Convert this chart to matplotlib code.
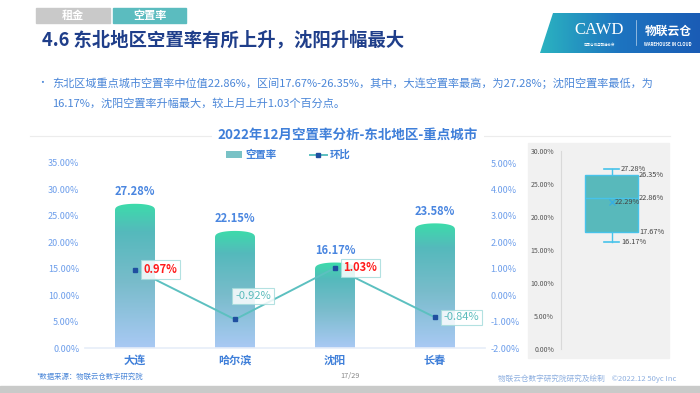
import numpy as np
import matplotlib
matplotlib.use("Agg")
import matplotlib.pyplot as plt
from matplotlib.colors import LinearSegmentedColormap
from matplotlib.patches import Polygon, Rectangle, Patch
from matplotlib.lines import Line2D

plt.rcParams['font.family'] = ['Noto Sans CJK SC', 'DejaVu Sans']

# data
cities = ["大连", "哈尔滨", "沈阳", "长春"]
vacancy = [27.28, 22.15, 16.17, 23.58]
mom = [0.97, -0.92, 1.03, -0.84]
box_stats = dict(whislo=16.17, q1=17.67, med=22.86, mean=22.29, q3=26.35, whishi=27.28)
left_ticks = [0, 5, 10, 15, 20, 25, 30, 35]
right_ticks = [-2, -1, 0, 1, 2, 3, 4, 5]
box_ticks = [0, 5, 10, 15, 20, 25, 30]

W, H = 700, 393
fig = plt.figure(figsize=(7, 3.93), dpi=100)


def fx(px):
    return px / W


def fy(py):
    return 1 - py / H


def rect(x0, y0, x1, y1):
    return [fx(x0), fy(y1), (x1 - x0) / W, (y1 - y0) / H]


BLUE = '#3f7fd9'
TICK = '#6d9eeb'
TEAL = '#5cc0c0'

# header tabs + title
fig.add_artist(Rectangle((fx(36), fy(23)), 74 / W, 15 / H, transform=fig.transFigure, color='#c9c9c9'))
fig.add_artist(Rectangle((fx(113), fy(23)), 73 / W, 15 / H, transform=fig.transFigure, color='#5bbcbf'))
fig.text(fx(73), fy(15.5), "租金", color='white', fontsize=8, fontweight='bold', ha='center', va='center')
fig.text(fx(149.5), fy(15.5), "空置率", color='white', fontsize=8, fontweight='bold', ha='center', va='center')
fig.text(fx(42), fy(40), "4.6 东北地区空置率有所上升，沈阳升幅最大", color='#1f3e8a',
         fontsize=13.2, fontweight='bold', ha='left', va='center')

# logo
axl = fig.add_axes(rect(540, 13, 700, 53))
axl.axis('off')
gx = np.linspace(0, 1, 256).reshape(1, -1)
logo_cmap = LinearSegmentedColormap.from_list('logo', ['#2bb3c0', '#1d74c0', '#1a5cb5'])
im = axl.imshow(gx, extent=[0, 1, 0, 1], cmap=logo_cmap, aspect='auto')
clip = Polygon([(0, 0), (13 / 160, 1), (1, 1), (1, 0)], transform=axl.transAxes)
im.set_clip_path(clip)
axl.set_xlim(0, 1)
axl.set_ylim(0, 1)
axl.text(0.37, 0.58, "CAWD", color='white', fontsize=12, ha='center', va='center',
         family=['Liberation Serif', 'DejaVu Serif'])
axl.text(0.37, 0.2, "中国仓储与配送协会", color='white', fontsize=2.5, ha='center', va='center')
axl.plot([0.6, 0.6], [0.2, 0.82], color='white', lw=0.5, alpha=0.7)
axl.text(0.8, 0.55, "物联云仓", color='white', fontsize=8.5, fontweight='bold', ha='center', va='center')
axl.text(0.8, 0.2, "WAREHOUSE IN CLOUD", color='white', fontsize=3, fontweight='bold', ha='center', va='center')

# bullet text
TXT = '#4a86d8'
fig.text(fx(37), fy(83), "•", color=TXT, fontsize=7, ha='left', va='center')
fig.text(fx(52), fy(83), "东北区域重点城市空置率中位值22.86%，区间17.67%-26.35%，其中，大连空置率最高，为27.28%；沈阳空置率最低，为",
         color=TXT, fontsize=8, ha='left', va='center')
fig.text(fx(52), fy(103), "16.17%，沈阳空置率升幅最大，较上月上升1.03个百分点。",
         color=TXT, fontsize=8, ha='left', va='center')

# chart title with line
fig.add_artist(Line2D([fx(30), fx(670)], [fy(136), fy(136)], transform=fig.transFigure, color='#ececec', lw=0.8))
fig.text(fx(348), fy(135), "2022年12月空置率分析-东北地区-重点城市", color=BLUE, fontsize=9.7,
         fontweight='bold', ha='center', va='center',
         bbox=dict(boxstyle='square,pad=0.4', fc='white', ec='none'))

# main chart
ax = fig.add_axes(rect(85, 163, 485, 348))
ax.set_xlim(-0.5, len(cities) - 0.5)
ax.set_ylim(0, 35)
bar_cmap = LinearSegmentedColormap.from_list('bar', [(0, '#a9c9f4'), (0.45, '#79bccb'), (0.8, '#55b9bc'), (1, '#3cdcaa')])
grad = np.linspace(0, 1, 256).reshape(-1, 1)
bw = 0.4
cap = 1.4
for i, v in enumerate(vacancy):
    x0 = i - bw / 2
    t = np.linspace(np.pi, 0, 60)
    arc = np.column_stack([i + bw / 2 * np.cos(t), v - cap + cap * np.sin(t) ** 0.6])
    verts = np.vstack([[[x0, 0], [x0, v - cap]], arc, [[x0 + bw, v - cap], [x0 + bw, 0]]])
    poly = Polygon(verts, closed=True, transform=ax.transData)
    img = ax.imshow(grad, extent=[x0, x0 + bw, 0, v], origin='lower', cmap=bar_cmap, aspect='auto', zorder=2)
    img.set_clip_path(poly)
    ax.annotate(f"{v:.2f}%", (i, v), xytext=(0, 4), textcoords='offset points', ha='center', va='bottom',
                color='#4a86e0', fontsize=8, fontweight='bold')
ax.set_xlim(-0.5, len(cities) - 0.5)
ax.set_ylim(0, 35)
ax.set_yticks(left_ticks)
ax.set_yticklabels([f"{t:.2f}%" for t in left_ticks])
ax.set_xticks(range(len(cities)))
ax.set_xticklabels(cities, fontweight='bold', color=BLUE, fontsize=8)
ax.tick_params(axis='y', length=0, labelsize=6.5, labelcolor=TICK, pad=4)
ax.tick_params(axis='x', length=0, pad=4)
for s in ['top', 'right', 'left']:
    ax.spines[s].set_visible(False)
ax.spines['bottom'].set_color('#e6edf8')
ax.spines['bottom'].set_linewidth(1.2)

ax2 = ax.twinx()
ax2.set_ylim(-2, 5)
ax2.plot(range(len(cities)), mom, color=TEAL, lw=1.4, marker='s', markersize=3.2,
         markerfacecolor='#1f4fa0', markeredgecolor='#1f4fa0', zorder=3)
ax2.set_yticks(right_ticks)
ax2.set_yticklabels([f"{t:.2f}%" for t in right_ticks])
ax2.tick_params(axis='y', length=0, labelsize=6.5, labelcolor=TICK, pad=4)
for s in ax2.spines.values():
    s.set_visible(False)
offsets = [(6, 0), (0, 17), (6, 0), (6, 0)]
for i, v in enumerate(mom):
    col = '#ff1a1a' if v > 0 else '#5cbcbc'
    ax2.annotate(f"{v:.2f}%", (i, v), xytext=offsets[i], textcoords='offset points', ha='left', va='center',
                 color=col, fontsize=8, fontweight='bold' if v > 0 else 'normal', zorder=5,
                 bbox=dict(boxstyle='square,pad=0.25', fc='white', ec='#a6dcdc', lw=0.8, alpha=0.85))

# legend
handles = [Patch(facecolor='#79c2c6', edgecolor='none'),
           Line2D([0], [0], color=TEAL, lw=1.4, marker='s', markersize=2.5,
                  markerfacecolor='#1f4fa0', markeredgecolor='#1f4fa0')]
fig.legend(handles, ["空置率", "环比"], loc='center', bbox_to_anchor=(fx(288), fy(155)), ncol=2,
           frameon=False, labelcolor=BLUE, handlelength=1.6, handleheight=0.6,
           columnspacing=3.2, handletextpad=0.3, prop=dict(weight='bold', size=7.5))

# box plot panel
fig.add_artist(Rectangle((fx(528), fy(358)), 141 / W, 215 / H, transform=fig.transFigure, color='#f1f1f1', zorder=0))
ax3 = fig.add_axes(rect(561, 151, 669, 349))
ax3.set_facecolor('none')
ax3.bxp([box_stats], positions=[0.47], widths=0.49, capwidths=0.14, patch_artist=True,
        showmeans=True, showfliers=False,
        boxprops=dict(facecolor='#58b9bb', edgecolor='#47c3ea', lw=1),
        medianprops=dict(color='#47c3ea', lw=1),
        whiskerprops=dict(color='#47c3ea', lw=1),
        capprops=dict(color='#47c3ea', lw=1.2),
        meanprops=dict(marker='x', markeredgecolor='#3aaee0', markersize=4))
ax3.set_xlim(0, 1)
ax3.set_ylim(0, 30)
ax3.set_xticks([])
ax3.set_yticks(box_ticks)
ax3.set_yticklabels([f"{t:.2f}%" for t in box_ticks])
ax3.tick_params(axis='y', length=0, labelsize=5, labelcolor='#555555', pad=5)
for s in ['top', 'right', 'bottom']:
    ax3.spines[s].set_visible(False)
ax3.spines['left'].set_color('#d9d9d9')


def dx(px):
    return (px - 561) / 108


box_labels = [(dx(621), box_stats['whishi']), (dx(639), box_stats['q3']), (dx(639), box_stats['med']),
              (dx(615), box_stats['mean']), (dx(639), box_stats['q1']), (dx(621), box_stats['whislo'])]
for x, v in box_labels:
    ax3.text(x, v, f"{v:.2f}%", fontsize=5.3, color='#444444', ha='left', va='center')

# footer
fig.text(fx(37), fy(377), "*数据来源：物联云仓数字研究院", color=TXT, fontsize=5.3, style='italic', ha='left', va='center')
fig.text(fx(350), fy(376), "17/29", color='#888888', fontsize=5.3, ha='center', va='center')
fig.text(fx(676), fy(379), "物联云仓数字研究院研究及绘制    ©2022.12 50yc Inc", color='#8fb0e0', fontsize=5.5,
         ha='right', va='center')
fig.add_artist(Rectangle((0, 0), 1, 7 / H, transform=fig.transFigure, color='#c9cac9'))

fig.savefig("out.png", dpi=100)
